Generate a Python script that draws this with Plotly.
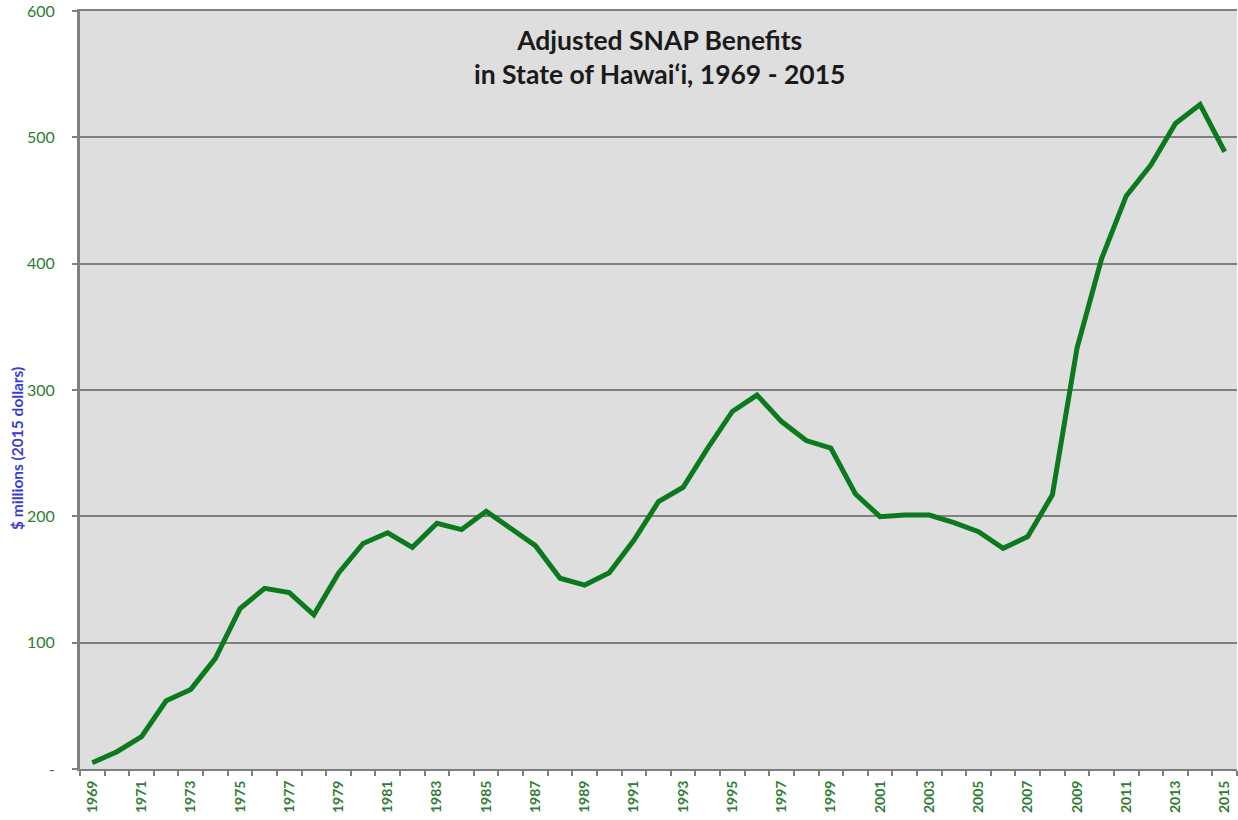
import plotly.graph_objects as go

years = list(range(1969, 2016))
benefits = [5, 13.7, 25.6, 54, 63, 87.6, 127, 143, 139.6, 122, 155, 178.5,
            187, 175.5, 194.5, 189.5, 204, 190.5, 176.8, 151, 145.6, 155.4,
            181, 211.6, 223, 254, 283, 296, 275, 260, 254, 217.7, 199.7,
            201, 201, 195, 187.8, 174.7, 184, 217, 333, 404, 453.6, 478,
            511, 526, 488.6]

x_labels = [str(y) for y in years[::2]]
y_ticks = [0, 100, 200, 300, 400, 500, 600]
y_labels = ["-", "100", "200", "300", "400", "500", "600"]

green_text = "#2e7d32"
grid = "#7f7f7f"

fig = go.Figure()
fig.add_trace(go.Scatter(x=years, y=benefits, mode="lines",
                         line=dict(color="#0a7a1c", width=5),
                         hoverinfo="x+y", showlegend=False))

fig.update_layout(
    width=1238, height=820,
    margin=dict(l=80, r=1, t=11, b=51, autoexpand=False),
    paper_bgcolor="white",
    plot_bgcolor="#dedede",
    font=dict(family="Lato", color=green_text),
    xaxis=dict(
        range=[1968.5, 2015.5],
        tickmode="array", tickvals=years[::2], ticktext=x_labels,
        tickangle=-90, ticks="", showgrid=False, zeroline=False,
        tickfont=dict(family="Lato", size=14, color=green_text, weight="bold"),
        showline=True, linecolor=grid, linewidth=2, mirror=True,
        ticklabelstandoff=4,
        ticklabeloverflow="allow",
        automargin=False,
        minor=dict(ticks="outside", tick0=1968.5, dtick=1, ticklen=5,
                   tickwidth=2, tickcolor=grid, showgrid=False),
    ),
    yaxis=dict(
        range=[0, 600],
        tickmode="array", tickvals=y_ticks, ticktext=y_labels,
        ticks="outside", ticklen=5, tickwidth=2, tickcolor=grid,
        showgrid=True, gridcolor=grid, gridwidth=2,
        zeroline=False,
        showline=True, linecolor=grid, linewidth=3,
        tickfont=dict(family="Lato", size=16, color=green_text),
        ticklabelstandoff=14,
        ticklabeloverflow="allow",
        automargin=False,
    ),
    annotations=[
        dict(text="Adjusted SNAP Benefits<br>in State of Hawai‘i, 1969 - 2015",
             xref="paper", yref="paper", x=0.501, y=0.939,
             xanchor="center", yanchor="middle", showarrow=False,
             font=dict(family="Lato", size=26.5, color="#1a1a1a", weight="bold")),
        dict(text="<b>$ millions (2015 dollars)</b>",
             xref="paper", yref="paper", x=-0.0545, y=0.4235,
             xanchor="center", yanchor="middle", showarrow=False,
             textangle=-90,
             font=dict(family="Lato", size=15.5, color="#3b3bd6")),
    ],
)

fig.write_html("out.html",
               config={"displayModeBar": False},
               post_script="document.body.style.margin='0';"
                           "document.body.style.overflow='hidden';")
